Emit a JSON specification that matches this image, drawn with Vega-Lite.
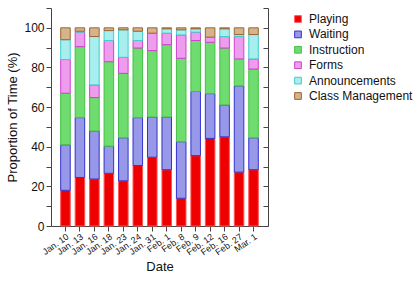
{
  "$schema": "https://vega.github.io/schema/vega-lite/v6.json",
  "autosize": {"type": "none"},
  "padding": {"left": 51, "top": 8, "right": 147, "bottom": 62},
  "width": 217,
  "height": 218,
  "background": "white",
  "config": {
    "view": {"stroke": null},
    "font": "Liberation Sans",
    "axis": {"domainColor": "#444", "tickColor": "#444", "labelColor": "#111", "titleColor": "#111", "grid": false, "titleFontWeight": "normal"}
  },
  "data": {"values": [
    {"d":"Jan. 10","a":"Playing","v":18,"k":1},{"d":"Jan. 10","a":"Waiting","v":23,"k":2},{"d":"Jan. 10","a":"Instruction","v":26,"k":3},{"d":"Jan. 10","a":"Forms","v":17,"k":4},{"d":"Jan. 10","a":"Announcements","v":10,"k":5},{"d":"Jan. 10","a":"Class Management","v":6,"k":6},
    {"d":"Jan. 13","a":"Playing","v":24.5,"k":1},{"d":"Jan. 13","a":"Waiting","v":30.2,"k":2},{"d":"Jan. 13","a":"Instruction","v":35.8,"k":3},{"d":"Jan. 13","a":"Forms","v":7.3,"k":4},{"d":"Jan. 13","a":"Announcements","v":0.5,"k":5},{"d":"Jan. 13","a":"Class Management","v":1.7,"k":6},
    {"d":"Jan. 16","a":"Playing","v":23.7,"k":1},{"d":"Jan. 16","a":"Waiting","v":24.2,"k":2},{"d":"Jan. 16","a":"Instruction","v":16.9,"k":3},{"d":"Jan. 16","a":"Forms","v":6.4,"k":4},{"d":"Jan. 16","a":"Announcements","v":24.4,"k":5},{"d":"Jan. 16","a":"Class Management","v":4.4,"k":6},
    {"d":"Jan. 18","a":"Playing","v":26.6,"k":1},{"d":"Jan. 18","a":"Waiting","v":13.7,"k":2},{"d":"Jan. 18","a":"Instruction","v":42.6,"k":3},{"d":"Jan. 18","a":"Forms","v":10.7,"k":4},{"d":"Jan. 18","a":"Announcements","v":5.0,"k":5},{"d":"Jan. 18","a":"Class Management","v":1.4,"k":6},
    {"d":"Jan. 23","a":"Playing","v":22.8,"k":1},{"d":"Jan. 23","a":"Waiting","v":21.7,"k":2},{"d":"Jan. 23","a":"Instruction","v":32.5,"k":3},{"d":"Jan. 23","a":"Forms","v":8.1,"k":4},{"d":"Jan. 23","a":"Announcements","v":13.9,"k":5},{"d":"Jan. 23","a":"Class Management","v":1.0,"k":6},
    {"d":"Jan. 24","a":"Playing","v":30.5,"k":1},{"d":"Jan. 24","a":"Waiting","v":24.2,"k":2},{"d":"Jan. 24","a":"Instruction","v":35.1,"k":3},{"d":"Jan. 24","a":"Forms","v":3.8,"k":4},{"d":"Jan. 24","a":"Announcements","v":4.7,"k":5},{"d":"Jan. 24","a":"Class Management","v":1.7,"k":6},
    {"d":"Jan. 31","a":"Playing","v":34.7,"k":1},{"d":"Jan. 31","a":"Waiting","v":20.3,"k":2},{"d":"Jan. 31","a":"Instruction","v":33.5,"k":3},{"d":"Jan. 31","a":"Forms","v":8.8,"k":4},{"d":"Jan. 31","a":"Announcements","v":0,"k":5},{"d":"Jan. 31","a":"Class Management","v":2.7,"k":6},
    {"d":"Feb. 1","a":"Playing","v":28.4,"k":1},{"d":"Feb. 1","a":"Waiting","v":26.6,"k":2},{"d":"Feb. 1","a":"Instruction","v":36.5,"k":3},{"d":"Feb. 1","a":"Forms","v":5.8,"k":4},{"d":"Feb. 1","a":"Announcements","v":2.2,"k":5},{"d":"Feb. 1","a":"Class Management","v":0.5,"k":6},
    {"d":"Feb. 8","a":"Playing","v":14,"k":1},{"d":"Feb. 8","a":"Waiting","v":28.5,"k":2},{"d":"Feb. 8","a":"Instruction","v":42.1,"k":3},{"d":"Feb. 8","a":"Forms","v":11.8,"k":4},{"d":"Feb. 8","a":"Announcements","v":2.6,"k":5},{"d":"Feb. 8","a":"Class Management","v":1.0,"k":6},
    {"d":"Feb. 9","a":"Playing","v":35.5,"k":1},{"d":"Feb. 9","a":"Waiting","v":32.4,"k":2},{"d":"Feb. 9","a":"Instruction","v":25.7,"k":3},{"d":"Feb. 9","a":"Forms","v":4.2,"k":4},{"d":"Feb. 9","a":"Announcements","v":1.7,"k":5},{"d":"Feb. 9","a":"Class Management","v":0.5,"k":6},
    {"d":"Feb. 12","a":"Playing","v":44.2,"k":1},{"d":"Feb. 12","a":"Waiting","v":22.6,"k":2},{"d":"Feb. 12","a":"Instruction","v":25.9,"k":3},{"d":"Feb. 12","a":"Forms","v":2.6,"k":4},{"d":"Feb. 12","a":"Announcements","v":0,"k":5},{"d":"Feb. 12","a":"Class Management","v":4.7,"k":6},
    {"d":"Feb. 16","a":"Playing","v":45,"k":1},{"d":"Feb. 16","a":"Waiting","v":16.1,"k":2},{"d":"Feb. 16","a":"Instruction","v":28.7,"k":3},{"d":"Feb. 16","a":"Forms","v":5.8,"k":4},{"d":"Feb. 16","a":"Announcements","v":3.9,"k":5},{"d":"Feb. 16","a":"Class Management","v":0.5,"k":6},
    {"d":"Feb. 27","a":"Playing","v":27.2,"k":1},{"d":"Feb. 27","a":"Waiting","v":43.5,"k":2},{"d":"Feb. 27","a":"Instruction","v":13.6,"k":3},{"d":"Feb. 27","a":"Forms","v":11.3,"k":4},{"d":"Feb. 27","a":"Announcements","v":1.0,"k":5},{"d":"Feb. 27","a":"Class Management","v":3.4,"k":6},
    {"d":"Mar. 1","a":"Playing","v":28.4,"k":1},{"d":"Mar. 1","a":"Waiting","v":16.1,"k":2},{"d":"Mar. 1","a":"Instruction","v":34.7,"k":3},{"d":"Mar. 1","a":"Forms","v":5.1,"k":4},{"d":"Mar. 1","a":"Announcements","v":12.3,"k":5},{"d":"Mar. 1","a":"Class Management","v":3.4,"k":6}
  ]},
  "encoding": {
    "x": {
      "field": "d", "type": "nominal", "sort": null,
      "scale": {"paddingInner": 0.34, "paddingOuter": 0.67},
      "axis": {"title": "Date", "titleFontSize": 13, "titlePadding": 4, "labelAngle": -35, "labelAlign": "right", "labelBaseline": "top", "labelFontSize": 9, "labelPadding": 1, "tickSize": 5}
    },
    "y": {
      "field": "v", "type": "quantitative", "aggregate": "sum", "stack": "zero",
      "scale": {"domain": [0, 110], "nice": false}
    }
  },
  "layer": [
    {
      "mark": {"type": "bar", "strokeWidth": 1},
      "encoding": {
        "y": {"field": "v", "type": "quantitative", "aggregate": "sum", "stack": "zero",
          "axis": {"title": "Proportion of Time (%)", "titleFontSize": 13, "labelFontSize": 12, "values": [0,10,20,30,40,50,60,70,80,90,100,110], "labelExpr": "datum.value % 20 == 0 && datum.value <= 100 ? datum.label : ''", "tickSize": 5, "labelPadding": 2, "titlePadding": 4}},
        "color": {"field": "a", "type": "nominal", "title": null,
          "scale": {"domain": ["Playing","Waiting","Instruction","Forms","Announcements","Class Management"],
            "range": ["#ee0000","#9898e8","#6fdc6f","#ee9cee","#a8eeee","#d6b38a"]},
          "legend": {"orient": "none", "legendX": 241, "legendY": 5, "symbolType": "square", "symbolSize": 45, "symbolStrokeWidth": 1, "labelFontSize": 12, "rowPadding": 3.4, "labelOffset": 5, "labelColor": "#111"}},
        "stroke": {"field": "a", "type": "nominal", "title": null,
          "scale": {"domain": ["Playing","Waiting","Instruction","Forms","Announcements","Class Management"],
            "range": ["#ff5555","#3333cc","#44c044","#cc44cc","#44cccc","#996633"]}},
        "order": {"field": "k", "type": "quantitative"}
      }
    },
    {
      "mark": {"type": "bar", "opacity": 0},
      "encoding": {
        "y": {"field": "v", "type": "quantitative", "aggregate": "sum", "stack": "zero",
          "axis": {"orient": "right", "title": null, "labels": false, "values": [0,10,20,30,40,50,60,70,80,90,100,110], "tickSize": -5}}
      }
    }
  ],
  "resolve": {"axis": {"y": "independent"}}
}
